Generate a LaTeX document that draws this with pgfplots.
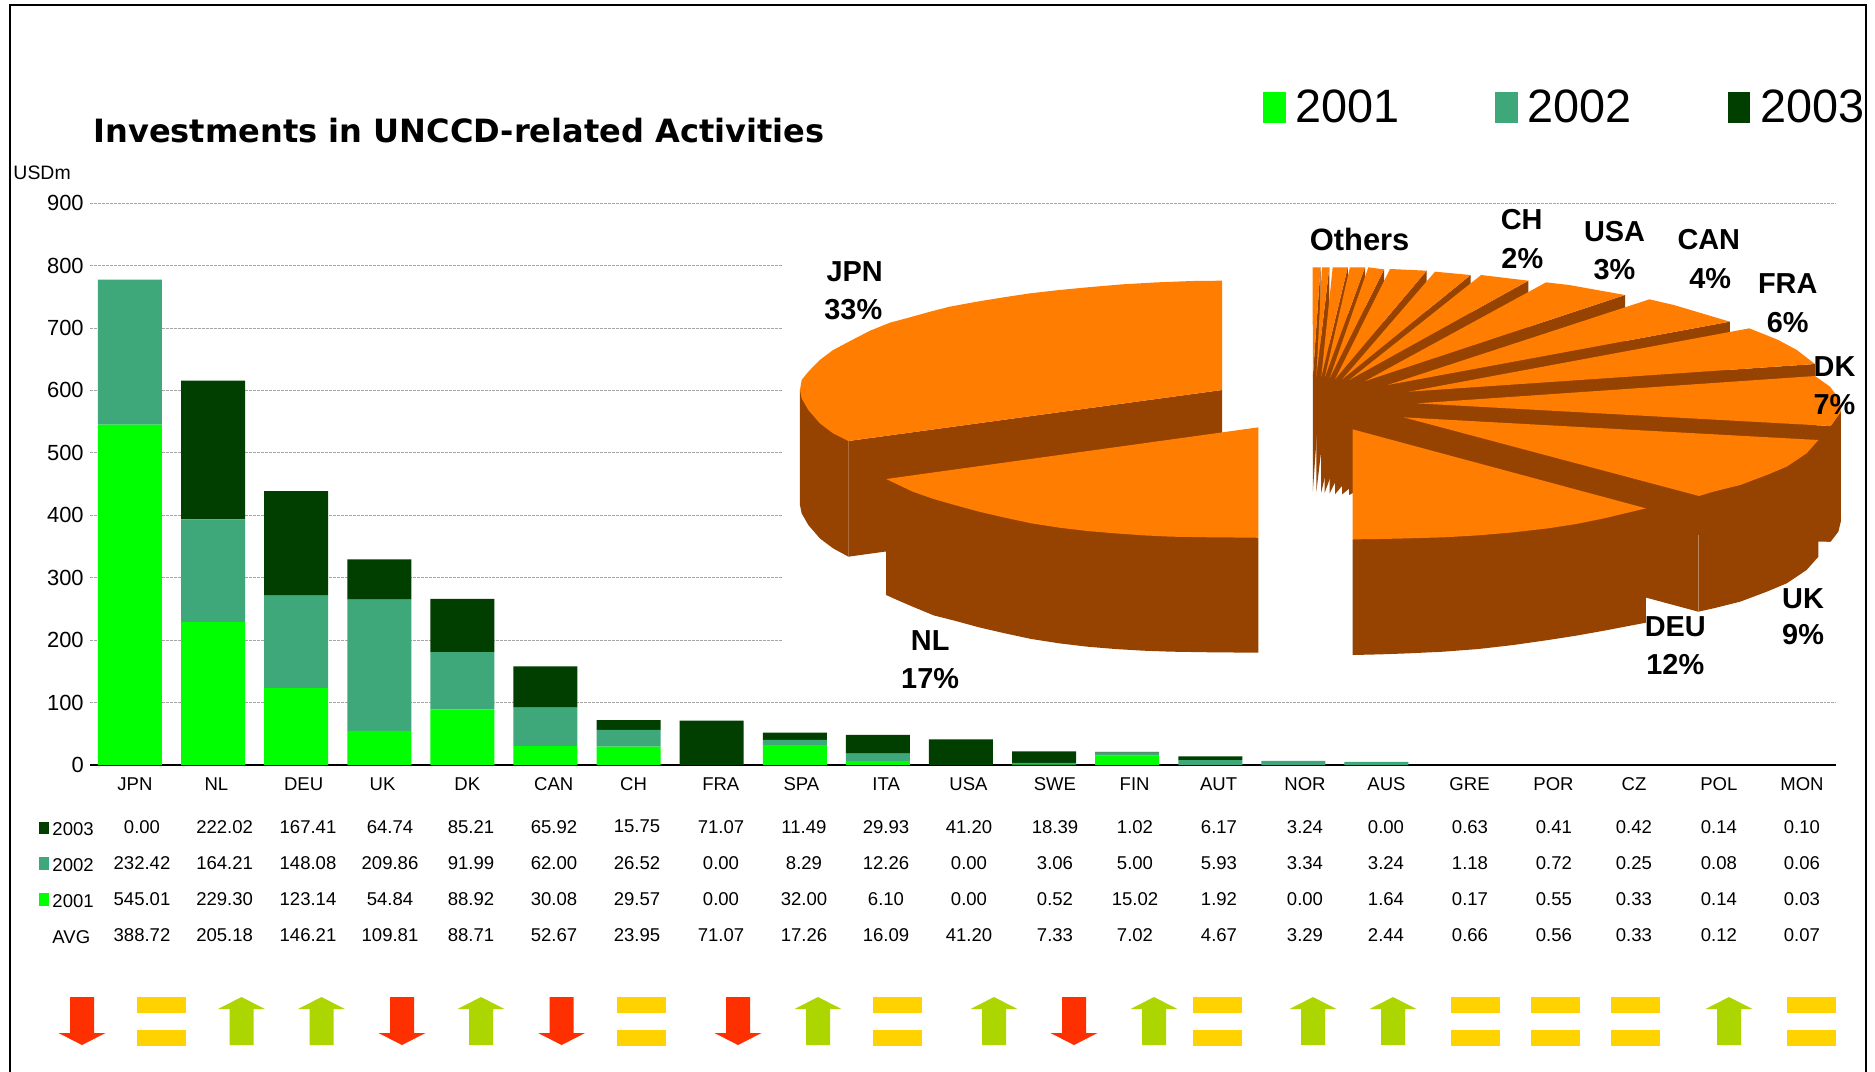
\documentclass[border=0pt]{standalone}
\usepackage{fontspec}
\setmainfont{Liberation Sans}
\newfontfamily\titlefont{DejaVu Sans}
\usepackage{pgfplots}
\usepackage{pgfplotstable}
\pgfplotsset{compat=1.18}
\definecolor{gA}{HTML}{00FF00}
\definecolor{gB}{HTML}{3FA87A}
\definecolor{gC}{HTML}{003F00}
\definecolor{pieO}{HTML}{FF7D00}
\definecolor{pieD}{HTML}{964200}
\definecolor{arR}{HTML}{FF3000}
\definecolor{arG}{HTML}{ADD500}
\definecolor{arY}{HTML}{FFD200}
\newcommand\fs[1]{\fontsize{#1}{#1}\selectfont}
\pgfplotstableread{
i y2001 y2002 y2003
0 545.01 232.42 0.00
1 229.30 164.21 222.02
2 123.14 148.08 167.41
3 54.84 209.86 64.74
4 88.92 91.99 85.21
5 30.08 62.00 65.92
6 29.57 26.52 15.75
7 0.00 0.00 71.07
8 32.00 8.29 11.49
9 6.10 12.26 29.93
10 0.00 0.00 41.20
11 0.52 3.06 18.39
12 15.02 5.00 1.02
13 0.00 7.85 6.17
14 0.00 6.58 0.00
15 0.00 4.88 0.00
}\invest
% pie helpers
\newcommand\Or[1]{\addplot[fill=pieO,draw=none,forget plot] coordinates {#1} --cycle;}
\newcommand\Dk[1]{\addplot[fill=pieD,draw=none,forget plot] coordinates {#1} --cycle;}
\newcommand\Fl[2]{\addplot[fill=#1,draw=none,forget plot] coordinates {#2} --cycle;}
% arrows, coordinates relative to centre
\newcommand\ArDn[1]{\addplot[fill=arR,draw=none,forget plot,x filter/.expression={x+#1}] coordinates {(-12,997)(12,997)(12,1033)(23.5,1033)(0,1045)(-23.5,1033)(-12,1033)} --cycle;}
\newcommand\ArUp[1]{\addplot[fill=arG,draw=none,forget plot,x filter/.expression={x+#1}] coordinates {(0,997)(23.5,1009)(12,1009)(12,1045)(-12,1045)(-12,1009)(-23.5,1009)} --cycle;}
\newcommand\ArEq[1]{\addplot[fill=arY,draw=none,forget plot,x filter/.expression={x+#1}] coordinates {(-24.5,997)(24.5,997)(24.5,1013)(-24.5,1013)} --cycle;
\addplot[fill=arY,draw=none,forget plot,x filter/.expression={x+#1}] coordinates {(-24.5,1030)(24.5,1030)(24.5,1046)(-24.5,1046)} --cycle;}
\newcommand\Rowv[2]{\foreach \v [count=\i] in {#2} {\pgfmathsetmacro\xx{{142,224.6,308,390,471,554,637,721,804,886,969,1055,1135,1219,1305,1386,1470,1554,1634,1719,1802}[\i-1]}\node[tbl] at (\xx,#1) {\v};}}
\begin{document}
\begin{tikzpicture}
\path[use as bounding box] (0,0) rectangle (750bp,-428.8bp);
% bars
\begin{axis}[
  at={(36bp,-306bp)},anchor=south west,scale only axis,
  width=698.4bp,height=224.8bp,
  xmin=-0.481,xmax=20.53,ymin=0,ymax=900,
  ybar stacked,bar width=25.6bp,
  axis x line=bottom,axis y line=left,
  x axis line style={-,black,line width=0.5pt},
  y axis line style={draw=none},
  xtick={0.06,1.04,2.09,3.04,4.06,5.10,6.06,7.11,8.08,9.10,10.09,11.13,12.09,13.10,14.14,15.12,16.12,17.13,18.10,19.12,20.12},
  xticklabels={JPN,NL,DEU,UK,DK,CAN,CH,FRA,SPA,ITA,USA,SWE,FIN,AUT,NOR,AUS,GRE,POR,CZ,POL,MON},
  ytick={0,100,...,900},
  major tick length=0pt,
  /pgf/number format/assume math mode=true,
  xticklabel style={font=\fs{7.44},yshift=-1.5pt},
  yticklabel style={font=\fs{8.8},xshift=1pt},
  ymajorgrids,
  major grid style={gray!70,line width=0.3pt,dash pattern=on 1.2pt off 0.4pt},
]
\addplot[fill=gA,draw=none] table[x=i,y=y2001] {\invest};
\addplot[fill=gB,draw=none] table[x=i,y=y2002] {\invest};
\addplot[fill=gC,draw=none] table[x=i,y=y2003] {\invest};
\end{axis}
% white ground of the pie picture
\fill[white] (313bp,-83bp) rectangle (736bp,-279.6bp);
% pie, in its own coordinates
\begin{axis}[
  at={(312bp,-284bp)},anchor=south west,scale only axis,
  width=438bp,height=208bp,
  xmin=0,xmax=1568,ymin=0,ymax=1560,y dir=reverse,
  axis lines=none,clip=false,no markers,
]
% JPN
\Dk{(28.6,600)(28.6,945)(31,970)(40.6,1005)(57,1045)(76,1075)(98,1100)(98,753)}
\Dk{(98,753)(633,600)(633,945)(98,1100)}
\Or{(633,600)(633,272)(590,273)(540,277)(490,283)(440,292)(400,300)(358,310)(320,322)(282,335)(243,350)(215,365)(186,382)(157.5,398)(129,422)(105,448)(76,480)(57,510)(40.6,545)(31,570)(28.6,600)(31,625)(40.6,660)(57,700)(76,730)(98,753)}
% NL
\Dk{(152,867)(152,1215)(170,1232)(190,1250)(220,1276)(250,1292)(285,1312)(320,1329)(360,1347)(400,1360)(440,1370)(480,1377)(520,1382)(560,1385)(620,1387)(685,1388)(685,1043)}
\Or{(685,712)(152,867)(170,885)(190,905)(220,927)(250,945)(285,965)(320,982)(360,1000)(400,1013)(440,1023)(480,1030)(520,1036)(560,1040)(620,1042)(685,1043)}
% others, clockwise
\Dk{(774,232)(763,560)(763,905)(774,577)}
\Or{(762.7,232)(774,232)(763,560)}
\Dk{(786.6,232)(768,561)(768,906)(786.6,577)}
\Or{(776,232)(786.6,232)(768,561)}
\Dk{(813,232)(775,562)(775,907)(813,577)}
\Or{(791.4,232)(813,232)(775,562)}
\Dk{(837.7,232)(780,563)(780,908)(837.7,577)}
\Or{(816,232)(837.7,232)(780,563)}
\Dk{(865,238)(787,565)(787,910)(865,583)}
\Or{(842.4,232)(865,238)(787,565)}
\Dk{(926,242)(795,567)(795,912)(926,587)}
\Or{(873.5,237)(926,242)(795,567)}
\Dk{(989,255)(805,568)(805,913)(989,600)}
\Or{(938,245)(989,255)(805,568)}
\Dk{(1071.6,272)(815,570)(815,915)(1071.6,617)}
\Or{(1004,255)(1071.6,272)(815,570)}
% USA, CAN, FRA
\Dk{(1210,315)(838,573)(838,918)(1210,660)}
\Or{(1097,277)(1130,285)(1170,300)(1210,315)(838,573)}
\Dk{(1360,395)(870,585)(870,930)(1360,740)}
\Or{(1245,328)(1280,345)(1320,370)(1360,395)(870,585)}
\Dk{(1482,522)(900,605)(900,950)(1482,867)}
\Or{(1388,415)(1429.6,450)(1456,480)(1482,522)(900,605)}
% DK
\Dk{(1504.5,708)(912,640)(912,985)(1487,1055)(1504.5,1055)}
\Dk{(1498,708)(1504.5,708)(1519,665)(1519,995)(1515.5,1025)(1504.5,1055)(1498,1055)}
\Or{(1482,558)(1503.6,590)(1518,630)(1519,665)(1504.5,708)(912,640)}
% UK
\Dk{(1316,918)(893,682)(893,1027)(1315,1265)}
\Dk{(1316,918)(1336.5,905)(1375,885)(1413,855)(1441.5,830)(1470,790)(1487,750)(1487,1100)(1470,1140)(1441.5,1180)(1413,1205)(1375,1235)(1336.5,1255)(1315,1265)}
\Or{(1487,750)(1470,790)(1441.5,830)(1413,855)(1375,885)(1336.5,905)(1316,918)(893,682)}
\addplot[pieD!65!white,line width=0.2pt,forget plot] coordinates {(1315,1035)(1315,1265)};
% DEU
\Dk{(820,1048)(820,1395)(860,1393)(900,1390)(950,1385)(1000,1377)(1050,1365)(1100,1350)(1140,1337)(1180,1322)(1210,1310)(1240,1298)(1240,955)}
\Or{(820,718)(1240,955)(1210,970)(1180,985)(1140,1002)(1100,1015)(1050,1027)(1000,1036)(950,1042)(900,1045)(860,1047)(820,1048)}
% labels
\tikzset{pl/.style={font=\fs{11.6}\bfseries,inner sep=0pt}}
\node[pl] at (axis cs:107,245) {JPN};
\node[pl] at (axis cs:105,358) {33\%};
\node[pl] at (axis cs:215,1352) {NL};
\node[pl] at (axis cs:215,1465) {17\%};
\node[pl,font=\fs{12.4}\bfseries] at (axis cs:830,147) {Others};
\node[pl] at (axis cs:1062,88) {CH};
\node[pl] at (axis cs:1063,205) {2\%};
\node[pl] at (axis cs:1195,125) {USA};
\node[pl] at (axis cs:1195,240) {3\%};
\node[pl] at (axis cs:1330,150) {CAN};
\node[pl] at (axis cs:1332,265) {4\%};
\node[pl] at (axis cs:1443,282) {FRA};
\node[pl] at (axis cs:1443,397) {6\%};
\node[pl] at (axis cs:1510,530) {DK};
\node[pl] at (axis cs:1510,645) {7\%};
\node[pl] at (axis cs:1465,1225) {UK};
\node[pl] at (axis cs:1465,1335) {9\%};
\node[pl] at (axis cs:1282,1310) {DEU};
\node[pl] at (axis cs:1282,1425) {12\%};
\end{axis}
% page-wide layer, in reference pixels
\begin{axis}[
  at={(0bp,-428.8bp)},anchor=south west,scale only axis,
  width=750bp,height=428.8bp,
  xmin=0,xmax=1875,ymin=0,ymax=1072,y dir=reverse,
  axis lines=none,clip=false,no markers,
]
\addplot[black,line width=1pt,forget plot] coordinates {(10,1072)(10,5)(1866,5)(1866,1072)};
% legend squares
\Fl{gA}{(1263,92)(1286,92)(1286,123)(1263,123)}
\Fl{gB}{(1495,92)(1518,92)(1518,123)(1495,123)}
\Fl{gC}{(1728,92)(1750,92)(1750,123)(1728,123)}
% table squares
\Fl{gC}{(39,822)(49,822)(49,834)(39,834)}
\Fl{gB}{(39,857)(49,857)(49,870)(39,870)}
\Fl{gA}{(39,893)(49,893)(49,906)(39,906)}
% arrows
\ArDn{82}\ArEq{161}\ArUp{241.5}\ArUp{321.5}\ArDn{402}\ArUp{481}\ArDn{561.6}\ArEq{641.5}
\ArDn{738}\ArUp{818}\ArEq{897}\ArUp{994}\ArDn{1074}\ArUp{1154}\ArEq{1217.5}\ArUp{1313}
\ArUp{1393}\ArEq{1475}\ArEq{1555}\ArEq{1635}\ArUp{1729}\ArEq{1811}
\end{axis}
\begin{scope}[x=0.4bp,y=-0.4bp]
\tikzset{tbl/.style={font=\fs{7.44},inner sep=0pt}}
\node[anchor=base west,inner sep=0pt,font=\titlefont\bfseries\fs{12.87}] at (93,143) {Investments in UNCCD-related Activities};
\node[anchor=west,inner sep=0pt,font=\fs{7.8}] at (13,173) {USDm};
\node[anchor=base west,inner sep=0pt,font=\fs{18.8}] at (1295,123) {2001};
\node[anchor=base west,inner sep=0pt,font=\fs{18.8}] at (1527,123) {2002};
\node[anchor=base west,inner sep=0pt,font=\fs{18.8}] at (1760,123) {2003};
\node[tbl,anchor=west] at (52,829) {2003};
\node[tbl,anchor=west] at (52,865) {2002};
\node[tbl,anchor=west] at (52,901) {2001};
\node[tbl,anchor=west] at (52,937) {AVG};
\Rowv{826.7}{0.00,222.02,167.41,64.74,85.21,65.92,15.75,71.07,11.49,29.93,41.20,18.39,1.02,6.17,3.24,0.00,0.63,0.41,0.42,0.14,0.10}
\Rowv{862.7}{232.42,164.21,148.08,209.86,91.99,62.00,26.52,0.00,8.29,12.26,0.00,3.06,5.00,5.93,3.34,3.24,1.18,0.72,0.25,0.08,0.06}
\Rowv{898.7}{545.01,229.30,123.14,54.84,88.92,30.08,29.57,0.00,32.00,6.10,0.00,0.52,15.02,1.92,0.00,1.64,0.17,0.55,0.33,0.14,0.03}
\Rowv{934.7}{388.72,205.18,146.21,109.81,88.71,52.67,23.95,71.07,17.26,16.09,41.20,7.33,7.02,4.67,3.29,2.44,0.66,0.56,0.33,0.12,0.07}
\end{scope}
\end{tikzpicture}
\end{document}
